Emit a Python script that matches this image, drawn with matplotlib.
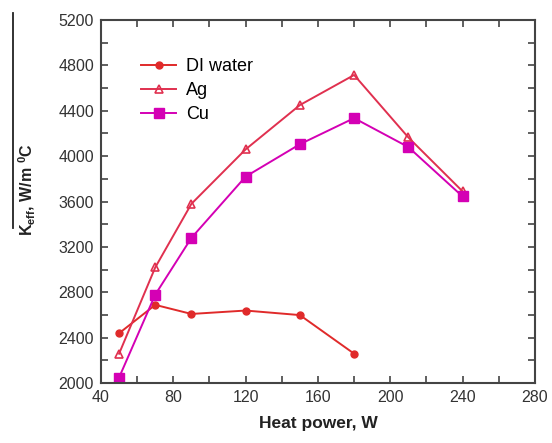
import matplotlib
matplotlib.use('Agg')
import matplotlib.pyplot as plt
from matplotlib.lines import Line2D
from matplotlib.ticker import MultipleLocator

plt.rcParams['font.family'] = ['Liberation Sans', 'DejaVu Sans']

# data
di_x = [50, 70, 90, 120, 150, 180]
di_y = [2440, 2690, 2610, 2640, 2600, 2260]

ag_x = [50, 70, 90, 120, 150, 180, 210, 240]
ag_y = [2260, 3020, 3580, 4060, 4450, 4715, 4165, 3690]

cu_x = [50, 70, 90, 120, 150, 180, 210, 240]
cu_y = [2050, 2780, 3280, 3820, 4105, 4335, 4080, 3645]

fig = plt.figure(figsize=(5.52, 4.43), dpi=100)
ax = fig.add_axes([0.183, 0.135, 0.786, 0.82])

ax.plot(di_x, di_y, color='#e02a2a', marker='o', markersize=5, lw=1.4, label='DI water')
ax.plot(ag_x, ag_y, color='#e0304f', marker='^', markersize=6, mfc='none', mew=1.2,
        lw=1.4, label='Ag')
ax.plot(cu_x, cu_y, color='#d400b4', marker='s', markersize=6.5, lw=1.4, label='Cu')

ax.set_xlim(40, 280)
ax.set_ylim(2000, 5200)
ax.xaxis.set_major_locator(MultipleLocator(40))
ax.xaxis.set_minor_locator(MultipleLocator(20))
ax.yaxis.set_major_locator(MultipleLocator(400))
ax.yaxis.set_minor_locator(MultipleLocator(200))
ax.tick_params(which='both', direction='in', top=True, right=True,
               labelsize=11.5, labelcolor='#333333', color='#444444', width=1.2, length=5)
ax.tick_params(which='major', pad=5)
for s in ax.spines.values():
    s.set_linewidth(1.5)
    s.set_color('#444444')

ax.set_xlabel('Heat power, W', fontsize=12.5, fontweight='bold', color='#222222', labelpad=8)
fig.text(0.05, 0.572, r'K$_{\mathregular{eff}}$, W/m $^{\mathregular{0}}$C', rotation=90,
         ha='center', va='center', fontsize=11.5, fontweight='bold', color='#222222')
fig.add_artist(Line2D([0.024, 0.024], [0.485, 0.97], color='#222222', lw=1.3,
                      transform=fig.transFigure))

ax.legend(loc='upper left', bbox_to_anchor=(0.055, 0.94), frameon=False, fontsize=13,
          handlelength=1.95, labelspacing=0.4, handletextpad=0.55)

fig.savefig('out.png', dpi=100)
